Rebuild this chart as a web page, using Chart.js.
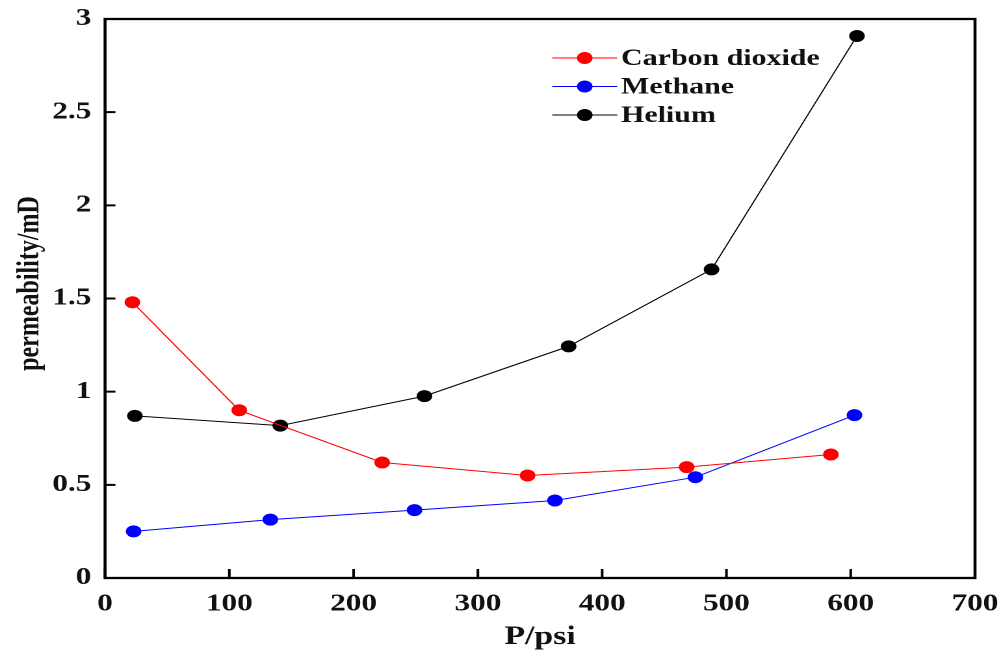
<!DOCTYPE html>
<html>
<head>
<meta charset="utf-8">
<script src="https://cdn.jsdelivr.net/npm/chart.js@4/dist/chart.umd.min.js"></script>
<style>
  html, body { margin: 0; padding: 0; background: #fff; overflow: hidden; }
  /* the source image is stretched horizontally, so draw narrow and scale out */
  #wrap {
    position: absolute; left: 0; top: 0;
    width: 770px; height: 653px;
    transform: scaleX(1.3); transform-origin: 0 0;
  }
</style>
</head>
<body>
<div id="wrap"><canvas id="permChart"></canvas></div>
<script>
// pressure (psi) and permeability (mD) for each gas
const co2P = [22, 108, 223, 340, 468, 584];
const co2K = [1.48, 0.9, 0.62, 0.55, 0.595, 0.663];
const ch4P = [23, 133, 249, 362, 475, 603];
const ch4K = [0.25, 0.313, 0.364, 0.416, 0.541, 0.874];
const heP = [24, 141, 257, 373, 488, 605];
const heK = [0.87, 0.818, 0.976, 1.243, 1.656, 2.909];
const seriesNames = ["Carbon dioxide", "Methane", "Helium"];

const FONT = "'Liberation Serif', 'Times New Roman', serif";

function toPoints(xs, ys) {
  return xs.map((x, i) => ({ x: x, y: ys[i] }));
}

function makeSet(label, xs, ys, color) {
  return {
    label: label,
    data: toPoints(xs, ys),
    borderColor: color,
    backgroundColor: color,
    borderWidth: 1,
    pointRadius: 6,
    pointBorderWidth: 0,
    pointBackgroundColor: color,
    tension: 0,
    fill: false,
  };
}

// box frame, inward tick marks and legend inside the plot
const framePlugin = {
  id: "frame",
  afterDatasetsDraw(chart) {
    const ctx = chart.ctx;
    const a = chart.chartArea;
    const xs = chart.scales.x;
    const ys = chart.scales.y;
    ctx.save();
    ctx.strokeStyle = "#000";
    ctx.lineWidth = 2.3;
    ctx.strokeRect(a.left, a.top, a.right - a.left, a.bottom - a.top);

    ctx.lineWidth = 2;
    ctx.beginPath();
    xs.ticks.forEach((t) => {
      const px = xs.getPixelForValue(t.value);
      ctx.moveTo(px, a.bottom);
      ctx.lineTo(px, a.bottom - 9);
    });
    ys.ticks.forEach((t) => {
      const py = ys.getPixelForValue(t.value);
      ctx.moveTo(a.left, py);
      ctx.lineTo(a.left + 8, py);
    });
    ctx.stroke();

    // legend
    const lx = a.left + 344;
    let ly = a.top + 39;
    ctx.font = "bold 23px " + FONT;
    ctx.textBaseline = "middle";
    ctx.textAlign = "left";
    chart.data.datasets.forEach((ds) => {
      ctx.strokeStyle = ds.borderColor;
      ctx.lineWidth = 1;
      ctx.beginPath();
      ctx.moveTo(lx, ly);
      ctx.lineTo(lx + 50, ly);
      ctx.stroke();
      ctx.fillStyle = ds.borderColor;
      ctx.beginPath();
      ctx.arc(lx + 25, ly, 6, 0, Math.PI * 2);
      ctx.fill();
      ctx.fillStyle = "#111";
      ctx.fillText(ds.label, lx + 53, ly + 1);
      ly += 28.5;
    });
    ctx.restore();
  },
};

const config = {
  type: "line",
  data: {
    datasets: [
      makeSet(seriesNames[0], co2P, co2K, "#ff0000"),
      makeSet(seriesNames[1], ch4P, ch4K, "#0000ff"),
      makeSet(seriesNames[2], heP, heK, "#000000"),
    ],
  },
  options: {
    responsive: true,
    maintainAspectRatio: false,
    animation: false,
    devicePixelRatio: 2,
    layout: {
      padding: { left: 0, right: 20, top: 19, bottom: 0 },
    },
    plugins: {
      legend: { display: false },
      tooltip: { enabled: false },
    },
    scales: {
      x: {
        type: "linear",
        min: 0,
        max: 700,
        grid: { display: false, drawTicks: false, tickLength: 0 },
        border: { display: false },
        afterFit: (s) => {
          s.height = 75;
          s.paddingLeft = 0;
          s.paddingRight = 0;
        },
        ticks: {
          stepSize: 100,
          color: "#111",
          padding: 12,
          maxRotation: 0,
          font: { family: FONT, size: 24, weight: "bold" },
        },
        title: {
          display: true,
          text: "P/psi",
          color: "#111",
          padding: { top: 0, bottom: 0 },
          font: { family: FONT, size: 26, weight: "bold" },
        },
      },
      y: {
        type: "linear",
        min: 0,
        max: 3,
        grid: { display: false, drawTicks: false, tickLength: 0 },
        border: { display: false },
        afterFit: (s) => {
          s.width = 80.8;
          s.paddingTop = 0;
          s.paddingBottom = 0;
        },
        ticks: {
          stepSize: 0.5,
          color: "#111",
          padding: 10.5,
          callback: (v) => String(Number(v)),
          font: { family: FONT, size: 24, weight: "bold" },
        },
        title: {
          display: true,
          // leading spaces nudge the label up, as in the source
          text: "     permeability/mD",
          color: "#111",
          padding: { top: 9, bottom: 0 },
          font: { family: FONT, size: 24, weight: "bold" },
        },
      },
    },
  },
  plugins: [framePlugin],
};

const permChart = new Chart(document.getElementById("permChart"), config);
</script>
</body>
</html>
